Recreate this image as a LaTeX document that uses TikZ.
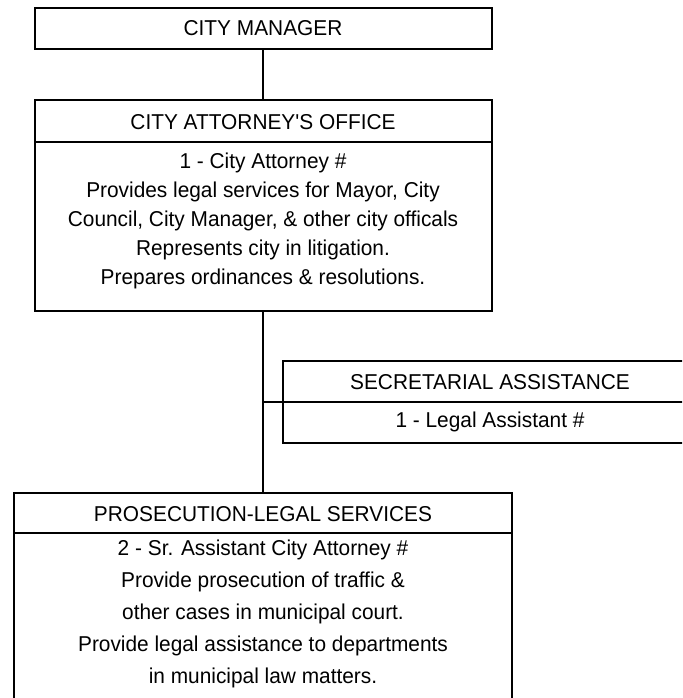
\documentclass[tikz,border=0pt]{standalone}
\usepackage{fontspec}
\setmainfont{Liberation Sans}[Ligatures=TeXOff, FakeStretch=0.97]
\begin{document}
\begin{tikzpicture}[x=1pt,y=-1pt,
  box/.style={draw, line width=2pt, inner sep=0pt, rectangle},
  divider/.style={line width=1.4pt},
  conn/.style={line width=1.8pt},
  txt/.style={inner sep=0pt, align=center, font=\fontsize{21.5}{29.2}\selectfont},
  htxt/.style={inner sep=0pt, font=\fontsize{21.5}{24}\selectfont}]
\useasboundingbox (0,0) rectangle (682,698);
\clip (0,0) rectangle (682,698);
% City manager
\node[box, minimum width=457pt, minimum height=41pt, htxt] (mgr) at (263,28.5) {CITY MANAGER};
% City attorney
\node[box, minimum width=457pt, minimum height=211pt] (att) at (263,205.5) {};
\coordinate (attdl) at (34.5,142);
\coordinate (attdr) at (491.5,142);
\draw[divider] (attdl) -- (attdr);
\node[htxt] (atth) at (263,122) {CITY ATTORNEY'S OFFICE};
\node[txt] (attb) at (263,221) {1 - City Attorney \#\\Provides legal services for Mayor, City\\Council, City Manager, \& other city officals\\Represents city in litigation.\\Prepares ordinances \& resolutions.};
% Secretarial
\node[box, minimum width=414pt, minimum height=82pt] (sec) at (490,402) {};
\coordinate (secdl) at (283,402);
\coordinate (secdr) at (697,402);
\draw[divider] (secdl) -- (secdr);
\node[htxt] (sech) at (490,382) {SECRETARIAL ASSISTANCE};
\node[htxt] (secb) at (490,422) {1 - Legal Assistant \#};
% Prosecution
\node[box, minimum width=498pt, minimum height=240pt] (pro) at (263,613) {};
\coordinate (prodl) at (14,533);
\coordinate (prodr) at (512,533);
\draw[divider] (prodl) -- (prodr);
\node[htxt] (proh) at (263,514) {PROSECUTION-LEGAL SERVICES};
\node[txt, font=\fontsize{21.5}{31.8}\selectfont] (prob) at (263,614) {2 - Sr. Assistant City Attorney \#\\Provide prosecution of traffic \&\\other cases in municipal court.\\Provide legal assistance to departments\\in municipal law matters.};
% connectors
\draw[conn] (mgr.south) -- (att.north);
\draw[conn] (att.south) -- (pro.north);
\coordinate (branch) at (263,402);
\draw[conn] (branch) -- (sec.west);
\end{tikzpicture}
\end{document}
